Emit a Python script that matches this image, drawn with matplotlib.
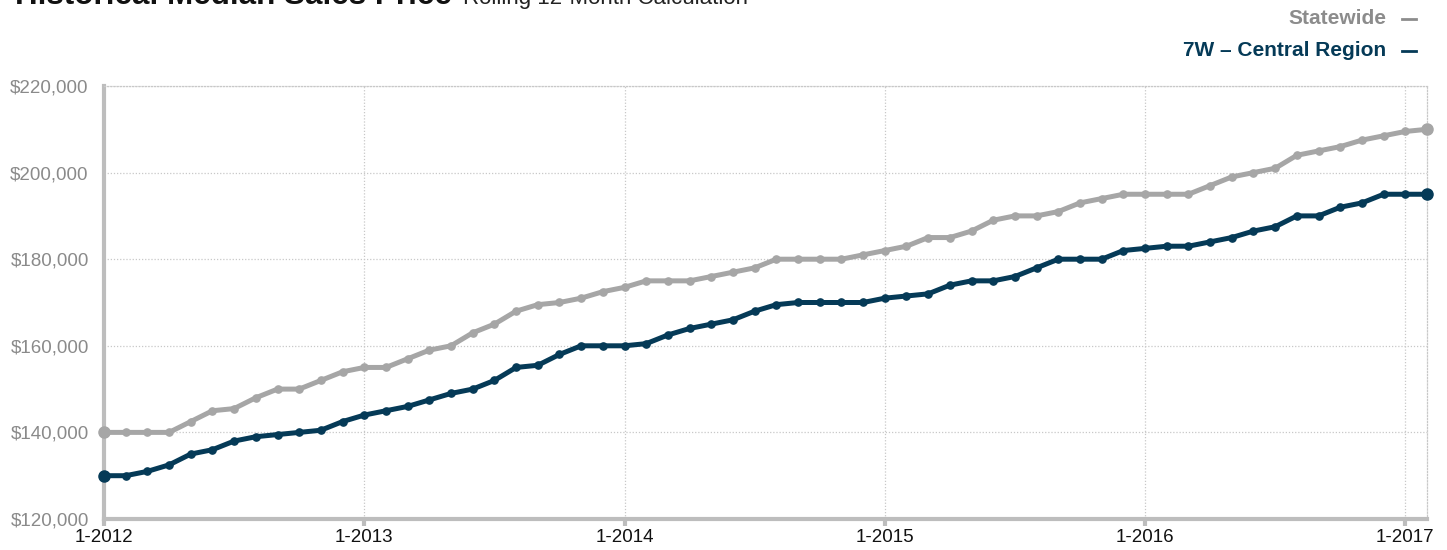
import matplotlib
matplotlib.use("Agg")
import matplotlib.pyplot as plt
import numpy as np
import pandas as pd
from matplotlib.ticker import FuncFormatter
from matplotlib.lines import Line2D

plt.rcParams['font.family'] = ['Liberation Sans', 'DejaVu Sans']

months = pd.date_range("2012-01-01", "2017-02-01", freq="MS")
statewide = [140000, 140000, 140000, 140000, 142500, 145000, 145500, 148000, 150000, 150000, 152000, 154000,
             155000, 155000, 157000, 159000, 160000, 163000, 165000, 168000, 169500, 170000, 171000, 172500,
             173500, 175000, 175000, 175000, 176000, 177000, 178000, 180000, 180000, 180000, 180000, 181000,
             182000, 183000, 185000, 185000, 186500, 189000, 190000, 190000, 191000, 193000, 194000, 195000,
             195000, 195000, 195000, 197000, 199000, 200000, 201000, 204000, 205000, 206000, 207500, 208500,
             209500, 210000]
central = [130000, 130000, 131000, 132500, 135000, 136000, 138000, 139000, 139500, 140000, 140500, 142500,
           144000, 145000, 146000, 147500, 149000, 150000, 152000, 155000, 155500, 158000, 160000, 160000,
           160000, 160500, 162500, 164000, 165000, 166000, 168000, 169500, 170000, 170000, 170000, 170000,
           171000, 171500, 172000, 174000, 175000, 175000, 176000, 178000, 180000, 180000, 180000, 182000,
           182500, 183000, 183000, 184000, 185000, 186500, 187500, 190000, 190000, 192000, 193000, 195000,
           195000, 195000]
tick_labels = ["1-2012", "1-2013", "1-2014", "1-2015", "1-2016", "1-2017"]
series_names = ["Statewide", "7W \u2013 Central Region"]

GRAY = "#a6a6a6"
NAVY = "#053a57"

fig = plt.figure(figsize=(14.47, 5.5), dpi=100)
ax = fig.add_axes([104/1447, 1-519/550, (1427-104)/1447, (519-86)/550])

x = np.arange(len(months))
for vals, col in [(statewide, GRAY), (central, NAVY)]:
    ax.plot(x, vals, color=col, lw=3.6, marker='o', ms=5.2, mec=col, mfc=col,
            clip_on=False, zorder=3, solid_joinstyle='round')
    ax.plot([x[0], x[-1]], [vals[0], vals[-1]], ls='none', marker='o', ms=8,
            color=col, clip_on=False, zorder=4)

ax.set_xlim(0, len(months) - 1)
ax.set_ylim(120000, 220000)
ax.set_yticks(np.arange(120000, 220001, 20000))
ax.yaxis.set_major_formatter(FuncFormatter(lambda v, p: f"${v:,.0f}"))
ax.set_xticks(np.arange(0, len(months), 12))
ax.set_xticklabels(tick_labels)

ax.grid(True, color="#c8c8c8", ls=(0, (1, 1.5)), lw=0.9)
ax.set_axisbelow(True)
for s in ["top", "right"]:
    ax.spines[s].set_color("#c8c8c8")
    ax.spines[s].set_linestyle((0, (1, 1.5)))
    ax.spines[s].set_linewidth(0.9)
for s in ["left", "bottom"]:
    ax.spines[s].set_color("#bdbdbd")
    ax.spines[s].set_linewidth(3)
ax.tick_params(axis='y', length=0, pad=11, labelsize=13.5, labelcolor="#8a8a8a")
ax.tick_params(axis='x', length=5, width=3, color="#bdbdbd", pad=2, labelsize=13.5, labelcolor="#111111")

fig.text(15/1447, 1 - 4/550, "Historical Median Sales Price", fontsize=22.6, fontweight='bold',
         va='baseline', ha='left', color="#111111")
fig.text(463/1447, 1 - 4/550, "Rolling 12-Month Calculation", fontsize=16,
         va='baseline', ha='left', color="#222222")

for i, (name, col, yy) in enumerate([(series_names[0], "#8c8c8c", 18), (series_names[1], NAVY, 50)]):
    fig.text(1386/1447, 1 - yy/550, name, fontsize=15, fontweight='bold',
             color=col, ha='right', va='center')
    fig.add_artist(Line2D([1402/1447, 1416/1447], [1 - (yy + 1)/550] * 2, color=col, lw=2,
                          transform=fig.transFigure))

fig.savefig("out.png", dpi=100)
